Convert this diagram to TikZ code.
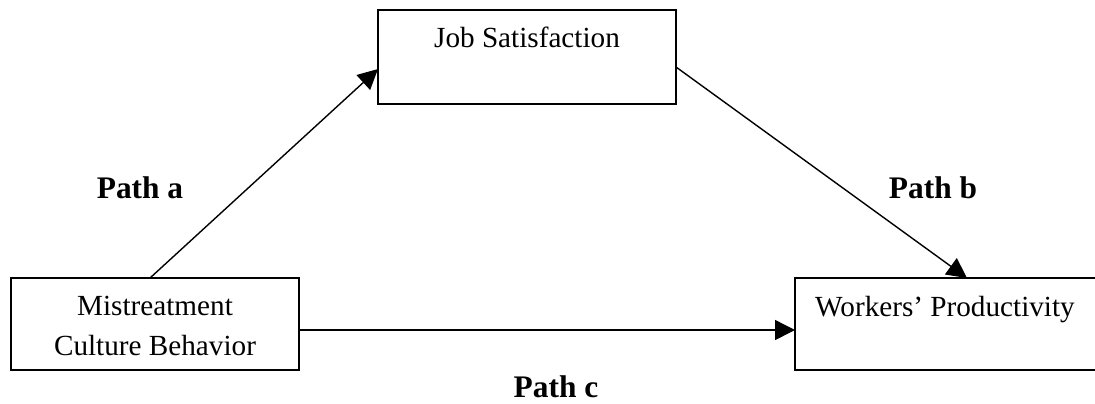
\documentclass[tikz,border=0pt]{standalone}
\usepackage{fontspec}
\setmainfont{Liberation Serif}
\usetikzlibrary{arrows.meta}

\begin{document}
\begin{tikzpicture}[
  x=0.5pt, y=-0.5pt,
  box/.style={draw=black, line width=0.75pt, fill=white, inner sep=0pt, outer sep=0pt},
  link/.style={draw=black, line width=0.7pt, -{Triangle[length=10pt,width=10pt]}},
  boxtext/.style={inner sep=0pt, anchor=base, align=center,
    font=\fontsize{14.6}{20}\selectfont},
  pathlabel/.style={inner sep=0pt, anchor=base,
    font=\fontsize{15.7}{19}\selectfont\bfseries}
]
  \useasboundingbox (0,0) rectangle (1095,403);

  % the three variables
  \node[box, minimum width=149pt, minimum height=47pt] (job) at (527,57) {};
  \node[box, minimum width=144pt, minimum height=46pt] (mis) at (155,324) {};
  \node[box, minimum width=152pt, minimum height=46pt] (wp)  at (947,324) {};

  \node[boxtext] (jobtxt) at (527,47) {Job Satisfaction};
  % base anchor of a two-line node sits on the last line
  \node[boxtext] (mistxt) at (155,355) {Mistreatment\\Culture Behavior};
  \node[boxtext] (wptxt)  at (945,316) {Workers’ Productivity};

  % paths a, b and c
  \draw[link] ([xshift=-2.5pt]mis.north) -- ([yshift=-6pt]job.west);
  \draw[link] ([yshift=-5pt]job.east) -- ([xshift=10pt]wp.north);
  \draw[link] ([yshift=-3pt]mis.east) -- ([yshift=-3pt]wp.west);

  \node[pathlabel] (pa) at (140,198) {Path a};
  \node[pathlabel] (pb) at (933,198) {Path b};
  \node[pathlabel] (pc) at (556,397) {Path c};
\end{tikzpicture}
\end{document}
